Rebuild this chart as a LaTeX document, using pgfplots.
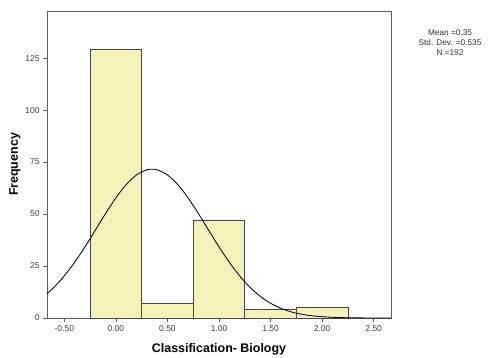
\documentclass[border=0pt]{standalone}
\usepackage{pgfplots}
\pgfplotsset{compat=1.18}
\usepackage{fontspec}
\setmainfont{Liberation Sans}
\definecolor{baryellow}{RGB}{245,243,185}
\definecolor{axgray}{RGB}{95,95,95}
\definecolor{bargray}{RGB}{70,70,70}
\begin{document}
\begin{tikzpicture}[x=1bp,y=1bp]
\path[use as bounding box] (-47,-39) rectangle (441,318);
\begin{axis}[
  at={(0,0)}, anchor=south west,
  scale only axis, width=344bp, height=307bp,
  xmin=-0.668, xmax=2.668, ymin=0, ymax=147.7,
  axis line style={axgray, line width=0.9pt},
  xtick={-0.5,0,0.5,1,1.5,2,2.5},
  xticklabels={-0.50,0.00,0.50,1.00,1.50,2.00,2.50},
  ytick={0,25,50,75,100,125},
  yticklabels={0,25,50,75,100,125},
  tick align=outside, tick pos=left,
  major tick length=4bp,
  tick style={axgray, line width=0.7pt},
  tick label style={font=\fontsize{8.5}{10}\selectfont, text=black!75},
  xlabel={Classification- Biology},
  ylabel={Frequency},
  xlabel style={font=\fontsize{12.5}{14}\selectfont\bfseries, at={(axis description cs:0.5,0)}, anchor=center, yshift=-31bp},
  ylabel style={font=\fontsize{12.5}{14}\selectfont\bfseries, at={(axis description cs:-0.093,0.5)}, anchor=center},
  clip=true,
]
\addplot[ybar interval, fill=baryellow, draw=bargray, line width=0.75pt]
  coordinates {(-0.25,129) (0.25,7) (0.75,47) (1.25,4) (1.75,5) (2.25,5)};
\addplot[black, line width=0.85pt, smooth, no marks] coordinates {
(-0.668,11.71) (-0.6,14.80) (-0.5,20.27) (-0.4,26.80) (-0.3,34.22) (-0.2,42.22)
(-0.1,50.27) (0,57.81) (0.1,64.19) (0.2,68.84) (0.3,71.29) (0.35,71.6)
(0.4,71.29) (0.5,68.84) (0.6,64.19) (0.7,57.81) (0.8,50.27) (0.9,42.22)
(1.0,34.22) (1.1,26.80) (1.2,20.27) (1.3,14.80) (1.4,10.43) (1.5,7.10)
(1.6,4.67) (1.7,2.96) (1.8,1.82) (1.9,1.08) (2.0,0.62) (2.1,0.34)
(2.2,0.18) (2.3,0.09) (2.4,0.04) (2.5,0.02) (2.6,0.01) (2.668,0.0)
};
\end{axis}
\node[align=center, font=\fontsize{8.3}{10}\selectfont, text=black!80] at (403,275) {Mean =0.35\\Std. Dev. =0.535\\N =192};
\end{tikzpicture}
\end{document}
